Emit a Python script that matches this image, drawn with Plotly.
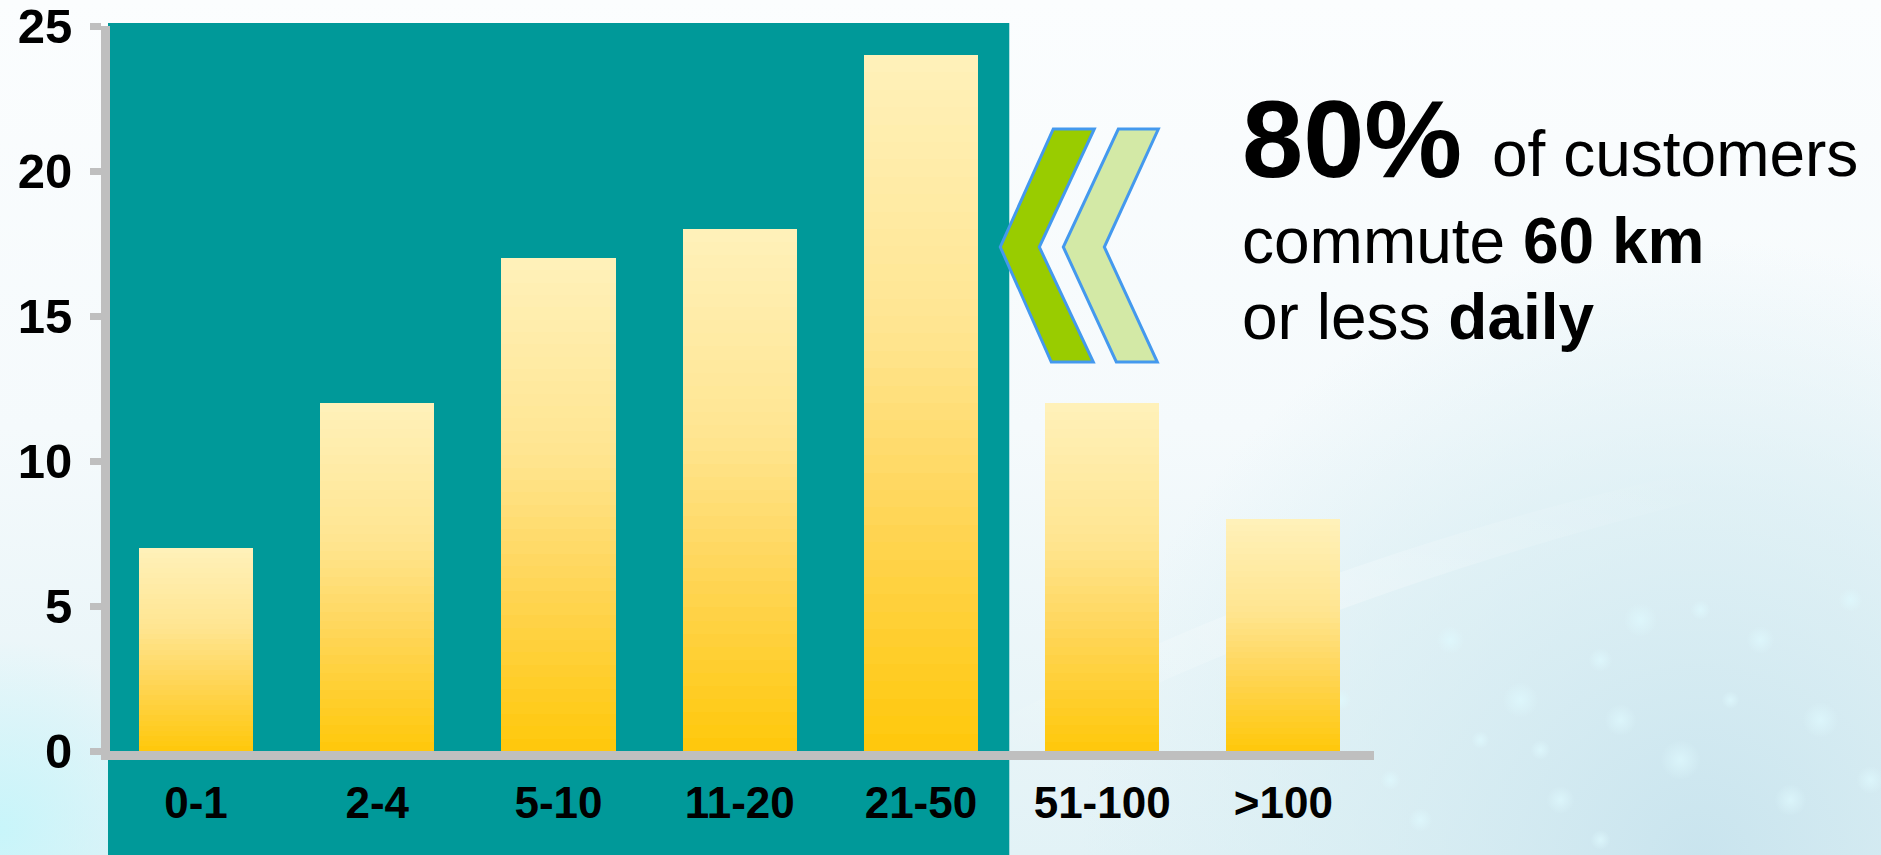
import base64
import plotly.graph_objects as go

# ---------------- data ----------------
categories = ["0-1", "2-4", "5-10", "11-20", "21-50", "51-100", ">100"]
values = [7, 12, 17, 18, 24, 12, 8]
y_ticks = [0, 5, 10, 15, 20, 25]
headline_big = "80%"
headline_rest = "of customers"
line2 = "commute <b>60 km</b>"
line3 = "or less <b>daily</b>"

# ---------------- layout geometry ----------------
W, H = 1881, 855
PL, PR, PT, PB = 110, 1373.6, 26, 751   # plot area in px

def px(x):
    return (x - PL) / (PR - PL)

def py(y):
    return (PB - y) / (PB - PT)

FONT = "Arial, Liberation Sans, sans-serif"

# ---------------- bar gradient (stacked slices of each bar) ----------------
stops = [(0.0, (255, 200, 10)), (0.35, (255, 214, 90)), (0.6, (255, 229, 144)), (1.0, (255, 241, 186))]

def grad(t):
    for (a, ca), (b, cb) in zip(stops[:-1], stops[1:]):
        if a <= t <= b:
            f = (t - a) / (b - a)
            c = [round(ca[i] + (cb[i] - ca[i]) * f) for i in range(3)]
            return "rgb(%d,%d,%d)" % tuple(c)
    return "rgb(%d,%d,%d)" % stops[-1][1]

N = 40
fig = go.Figure()
for k in range(N):
    fig.add_trace(go.Bar(
        x=categories,
        y=[v / N for v in values],
        marker=dict(color=grad((k + 0.5) / N), line=dict(width=0)),
        width=0.63,
        hoverinfo="skip",
        showlegend=False,
    ))

# ---------------- background image (svg) ----------------
bokeh = [(1450, 640, 14), (1520, 700, 18), (1600, 660, 12), (1680, 760, 20), (1760, 640, 14),
         (1820, 720, 18), (1390, 780, 10), (1560, 800, 14), (1700, 610, 10), (1850, 600, 12),
         (1480, 740, 9), (1620, 720, 16), (1340, 700, 11), (1790, 800, 16), (1640, 620, 17),
         (1540, 750, 10), (1420, 820, 12), (1870, 780, 14), (1730, 700, 9), (1600, 840, 10)]
circles = "".join(
    '<circle cx="%d" cy="%d" r="%d" fill="url(#b)"/>' % c for c in bokeh)
svg = f'''<svg xmlns="http://www.w3.org/2000/svg" width="{W}" height="{H}" viewBox="0 0 {W} {H}" preserveAspectRatio="none">
<defs>
<linearGradient id="g" x1="0" y1="0" x2="0" y2="1">
<stop offset="0" stop-color="#fbfdfe"/><stop offset="0.5" stop-color="#f5fafc"/><stop offset="1" stop-color="#e2f2f6"/>
</linearGradient>
<radialGradient id="r1" cx="1700" cy="860" r="620" gradientUnits="userSpaceOnUse">
<stop offset="0" stop-color="#c9e4ee" stop-opacity="1"/><stop offset="0.6" stop-color="#d5ecf2" stop-opacity="0.6"/><stop offset="1" stop-color="#d5ecf2" stop-opacity="0"/>
</radialGradient>
<radialGradient id="r2" cx="0" cy="830" r="190" gradientUnits="userSpaceOnUse">
<stop offset="0" stop-color="#c8f5fa" stop-opacity="1"/><stop offset="1" stop-color="#c8f5fa" stop-opacity="0"/>
</radialGradient>
<radialGradient id="b">
<stop offset="0" stop-color="#dffaff" stop-opacity="0.7"/><stop offset="1" stop-color="#dffaff" stop-opacity="0"/>
</radialGradient>
<linearGradient id="s" x1="0" y1="1" x2="1" y2="0">
<stop offset="0" stop-color="#ffffff" stop-opacity="0"/><stop offset="0.5" stop-color="#ffffff" stop-opacity="0.28"/><stop offset="1" stop-color="#ffffff" stop-opacity="0"/>
</linearGradient>
</defs>
<rect width="{W}" height="{H}" fill="url(#g)"/>
<rect width="{W}" height="{H}" fill="url(#r1)"/>
<rect width="{W}" height="{H}" fill="url(#r2)"/>
<path d="M1000 720 Q1300 560 1700 470 L1700 500 Q1300 600 1000 760 Z" fill="url(#s)"/>
{circles}
</svg>'''
bg_uri = "data:image/svg+xml;base64," + base64.b64encode(svg.encode()).decode()

# ---------------- shapes ----------------
def chevron(pts):
    return "M " + " L ".join("%.5f %.5f" % (px(x), py(y)) for x, y in pts) + " Z"

chev1 = [(1053, 129), (1094, 129), (1039, 247), (1093, 362), (1051, 362), (1000, 247)]
chev2 = [(1118, 129), (1158, 129), (1104, 247), (1157, 362), (1116, 362), (1063, 247)]

shapes = [
    dict(type="rect", xref="paper", yref="paper", x0=px(108), x1=px(1009), y0=py(H), y1=py(23),
         fillcolor="#009999", line=dict(width=0), layer="below"),
    dict(type="path", xref="paper", yref="paper", path=chevron(chev1),
         fillcolor="#99cc00", line=dict(color="#4499ee", width=3), layer="above"),
    dict(type="path", xref="paper", yref="paper", path=chevron(chev2),
         fillcolor="#d3e9a6", line=dict(color="#4499ee", width=3), layer="above"),
]

# ---------------- annotations ----------------
def ann(text, x, yc, size, bold=False):
    return dict(text=text, xref="paper", yref="paper", x=px(x), y=py(yc), xanchor="left",
                yanchor="middle", showarrow=False,
                font=dict(family=FONT, size=size, color="#000000",
                          weight="bold" if bold else "normal"))

annotations = [
    ann(headline_big, 1240, 177 - 0.3465 * 110, 110, bold=True),
    ann(headline_rest, 1490, 176 - 0.3465 * 64, 64),
    ann(line2, 1240, 263 - 0.3465 * 64, 64),
    ann(line3, 1240, 339 - 0.3465 * 64, 64),
]

fig.update_layout(
    width=W, height=H,
    margin=dict(l=PL, r=W - PR, t=PT, b=H - PB, pad=0, autoexpand=False),
    barmode="stack",
    bargap=0.37,
    paper_bgcolor="#f6fbfc",
    plot_bgcolor="rgba(0,0,0,0)",
    shapes=shapes,
    annotations=annotations,
    images=[dict(source=bg_uri, xref="paper", yref="paper", x=px(0), y=py(0),
                 sizex=px(W) - px(0), sizey=py(0) - py(H),
                 xanchor="left", yanchor="top", sizing="stretch", layer="below")],
    showlegend=False,
    xaxis=dict(
        type="category", range=[-0.4747, 6.5], showline=True, linecolor="#bfbfbf", linewidth=9,
        ticks="", showgrid=False, zeroline=False, automargin=False, ticklabelstandoff=5,
        ticklabeloverflow="allow",
        tickfont=dict(family=FONT, size=44, color="#000000", weight="bold"),
    ),
    yaxis=dict(
        range=[0, 25], tickvals=y_ticks, showline=True, linecolor="#bfbfbf", linewidth=9,
        ticks="outside", ticklen=11, tickwidth=7, tickcolor="#bfbfbf",
        showgrid=False, zeroline=False, automargin=False, ticklabelstandoff=8,
        ticklabeloverflow="allow",
        tickfont=dict(family=FONT, size=49, color="#000000", weight="bold"),
    ),
)

fig.write_html("out.html")
